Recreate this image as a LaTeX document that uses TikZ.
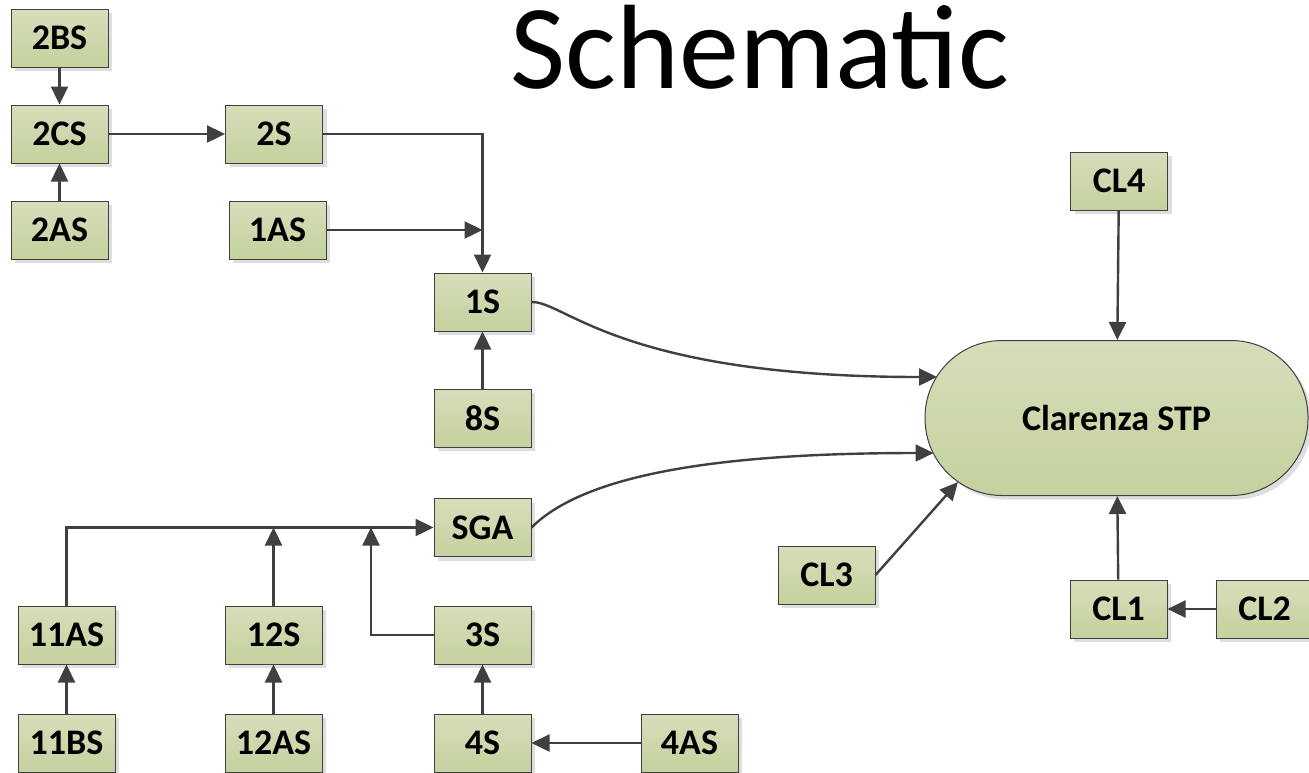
\documentclass[tikz,border=0pt]{standalone}
\usepackage{fontspec}
\setmainfont{Carlito}
\usetikzlibrary{arrows.meta,shadows}
\definecolor{boxtop}{RGB}{214,222,186}
\definecolor{boxbot}{RGB}{197,209,158}
\definecolor{linecol}{RGB}{64,64,64}
\definecolor{shadowcol}{RGB}{222,222,222}
\tikzset{
  stbox/.style={draw=linecol, line width=0.5pt, top color=boxtop, bottom color=boxbot,
    minimum width=48.5pt, minimum height=29pt, inner sep=0pt,
    font=\fontsize{18}{20}\selectfont\bfseries,
    drop shadow={shadow xshift=2pt, shadow yshift=-2pt, fill=shadowcol, opacity=1}},
  stpbox/.style={stbox, rounded corners=38.5pt, minimum width=191.5pt, minimum height=77.5pt},
  arr/.style={draw=linecol, line width=1.2pt, -{Triangle[length=9pt,width=8.5pt]}}
}
\begin{document}
\begin{tikzpicture}[x=0.5pt,y=-0.5pt]
\useasboundingbox (0,0) rectangle (1309,772);
\clip (0,0) rectangle (1309,772);
\node[font=\fontsize{60}{66}\selectfont, anchor=base] (title) at (760,88) {Schematic};

\node[stbox] (2BS) at (59.5,38) {2BS};
\node[stbox] (2CS) at (59.5,134) {2CS};
\node[stbox] (2AS) at (59.5,230) {2AS};
\node[stbox] (2S) at (274,134) {2S};
\node[stbox] (1AS) at (277.5,230) {1AS};
\node[stbox] (1S) at (482.5,302) {1S};
\node[stbox] (8S) at (482.5,418) {8S};
\node[stbox] (SGA) at (482.5,527.5) {SGA};
\node[stbox] (11AS) at (66.5,635) {11AS};
\node[stbox] (12S) at (273.5,635) {12S};
\node[stbox] (3S) at (482.5,635) {3S};
\node[stbox] (11BS) at (66.5,743) {11BS};
\node[stbox] (12AS) at (273.5,743) {12AS};
\node[stbox] (4S) at (482.5,743) {4S};
\node[stbox] (4AS) at (689.5,743) {4AS};
\node[stbox] (CL3) at (826.5,575) {CL3};
\node[stbox] (CL4) at (1119,181) {CL4};
\node[stbox] (CL1) at (1118.5,609) {CL1};
\node[stbox] (CL2) at (1264.5,609) {CL2};
\node[stpbox] (STP) at (1116.5,418) {Clarenza STP};

\coordinate (t1) at (937,377);
\coordinate (t2) at (933.5,453);
\coordinate (t3) at (958,482);
\coordinate (j3) at (371,527.5);

\draw[arr] (2BS) -- (2CS);
\draw[arr] (2AS) -- (2CS);
\draw[arr] (2CS) -- (2S);
\draw[arr] (2S.east) -| (1S.north);
\draw[arr] (1AS.east) -- (1AS.east -| 1S.north);
\draw[arr] (8S) -- (1S);
\draw[arr] (1S.east) .. controls (565,301) and (620,377) .. (t1);
\draw[arr] (SGA.east) .. controls (585,474) and (720,453) .. (t2);
\draw[arr] (CL3.east) -- (t3);
\draw[arr] (CL4) -- (STP);
\draw[arr] (CL1) -- (STP);
\draw[arr] (CL2) -- (CL1);
\draw[arr] (11AS.north) |- (SGA.west);
\draw[arr] (12S.north) -- (12S.north |- SGA.west);
\draw[arr] (3S.west) -| (j3);
\draw[arr] (11BS) -- (11AS);
\draw[arr] (12AS) -- (12S);
\draw[arr] (4S) -- (3S);
\draw[arr] (4AS) -- (4S);
\end{tikzpicture}
\end{document}
